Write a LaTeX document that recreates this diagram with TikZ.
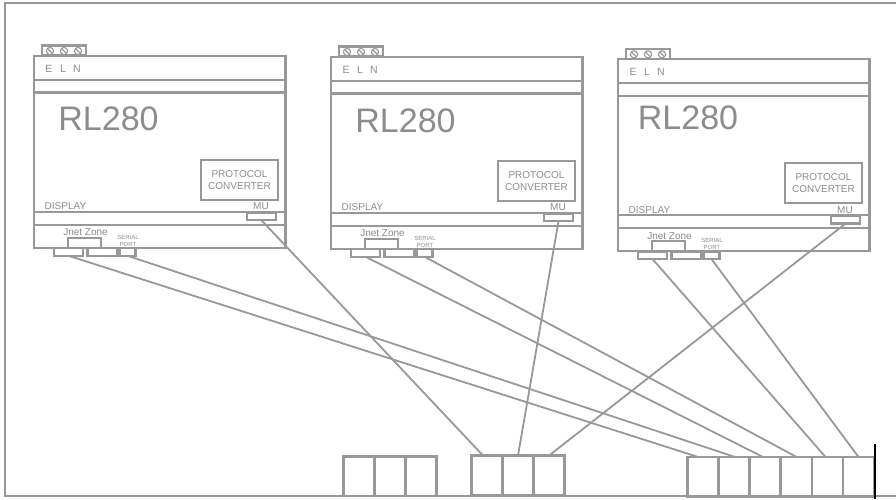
\documentclass[tikz,border=0pt]{standalone}
\usepackage{fontspec}
\setmainfont{Liberation Sans}
\definecolor{ln}{HTML}{98989A}
\definecolor{tx}{HTML}{8C8C8E}
\tikzset{
  x=1pt,y=-1pt,
  ln/.style={draw=ln,line width=2.2pt},
  box/.style={ln,rectangle,inner sep=0pt,outer sep=0pt,minimum width=#1},
  tag/.style={text=tx,inner sep=0pt,font=\fontsize{10}{11.5}\selectfont,align=center},
  tiny/.style={text=tx,inner sep=0pt,font=\fontsize{6}{7}\selectfont,align=center},
  cell/.style={ln,rectangle,inner sep=0pt,outer sep=0pt,minimum width=31pt,minimum height=39.5pt},
  wire/.style={draw=ln,line width=1.8pt},
  pics/device/.style 2 args={code={
    \node[box=44pt,minimum height=10pt] (-term) at (64,50.5) {};
    \foreach \cx in {50,64,78}{
      \draw[draw=ln,line width=1.1pt] (\cx,51) circle (3.6);
      \draw[draw=ln,line width=1.1pt] (\cx-2.5,48.5) -- (\cx+2.5,53.5);
    }
    \node[box=251.5pt,minimum height=192pt,fill=white] (-body) at (159.75,152) {};
    \draw[ln] (-body.west |- 0,80) -- (-body.east |- 0,80);
    \draw[ln] (-body.west |- 0,92.5) -- (-body.east |- 0,92.5);
    \draw[ln] (-body.west |- 0,212) -- (-body.east |- 0,212);
    \draw[ln] (-body.west |- 0,225) -- (-body.east |- 0,225);
    \node[tag,font=\fontsize{10.5}{12}\selectfont] (-e) at (49,69) {E};
    \node[tag,font=\fontsize{10.5}{12}\selectfont] (-l) at (63,69) {L};
    \node[tag,font=\fontsize{10.5}{12}\selectfont] (-n) at (77,69) {N};
    \node[text=tx,inner sep=0pt,font=\fontsize{34}{36}\selectfont] (-model) at (108.5+#1,119+#2) {RL280};
    \node[box=77pt,minimum height=40pt,tag] (-conv) at (239.5,180) {PROTOCOL\\CONVERTER};
    \node[tag,anchor=west] (-disp) at (44.5,206.5) {DISPLAY};
    \node[tag] (-mu) at (261,206.5) {MU};
    \node[box=29pt,minimum height=7.5pt] (-mutab) at (261.5,216.5) {};
    \node[tag] (-jnet) at (85.5,232.5) {Jnet Zone};
    \node[tiny] (-serial) at (128,240.5) {SERIAL\\PORT};
    \node[box=33pt,minimum height=10pt] (-jbox) at (84.5,243) {};
    \node[box=29pt,minimum height=7.5pt] (-ca) at (68.5,252) {};
    \node[box=29.5pt,minimum height=7.5pt] (-cb) at (102.25,252) {};
    \node[box=16pt,minimum height=7.5pt] (-cc) at (127.5,252) {};
  }}
}
\begin{document}
\begin{tikzpicture}
\useasboundingbox (0,0) rectangle (896,499);
\draw[ln] (896,3) -- (5,3) -- (5,496) -- (896,496);
\pic (d1) at (0,0) {device={0}{0}};
\pic (d2) at (297,1) {device={0}{1}};
\pic (d3) at (584,3.3) {device={-4.5}{-4.5}};
% bottom groups
\foreach \i/\cx in {1/359,2/390,3/421}{\node[cell] (a\i) at (\cx,476.3) {};}
\foreach \i/\cx in {1/487,2/518,3/549}{\node[cell] (b\i) at (\cx,475.3) {};}
\foreach \i/\cx in {1/703,2/734,3/765,4/796.5,5/827.5,6/858.5}{\node[cell] (c\i) at (\cx,476.7) {};}
\coordinate (blacktop) at (875,444);
\coordinate (blackbot) at (875,499);
\draw[black,line width=1.5pt] (blacktop) -- (blackbot);
% wires
\draw[wire] (d1-mutab.south) -- ([xshift=-4pt]b1.north);
\draw[wire] (d2-mutab.south) -- (b2.north);
\draw[wire] (d3-mutab.south) -- (b3.north);
\draw[wire] (d1-ca.south) -- ([xshift=-5pt]c1.north);
\draw[wire] (d1-cc.south) -- ([xshift=1pt]c2.north);
\draw[wire] (d2-ca.south) -- ([xshift=-2pt]c3.north);
\draw[wire] (d2-cc.south) -- (c4.north);
\draw[wire] (d3-ca.south) -- ([xshift=-2pt]c5.north);
\draw[wire] (d3-cc.south) -- (c6.north);
\end{tikzpicture}
\end{document}
